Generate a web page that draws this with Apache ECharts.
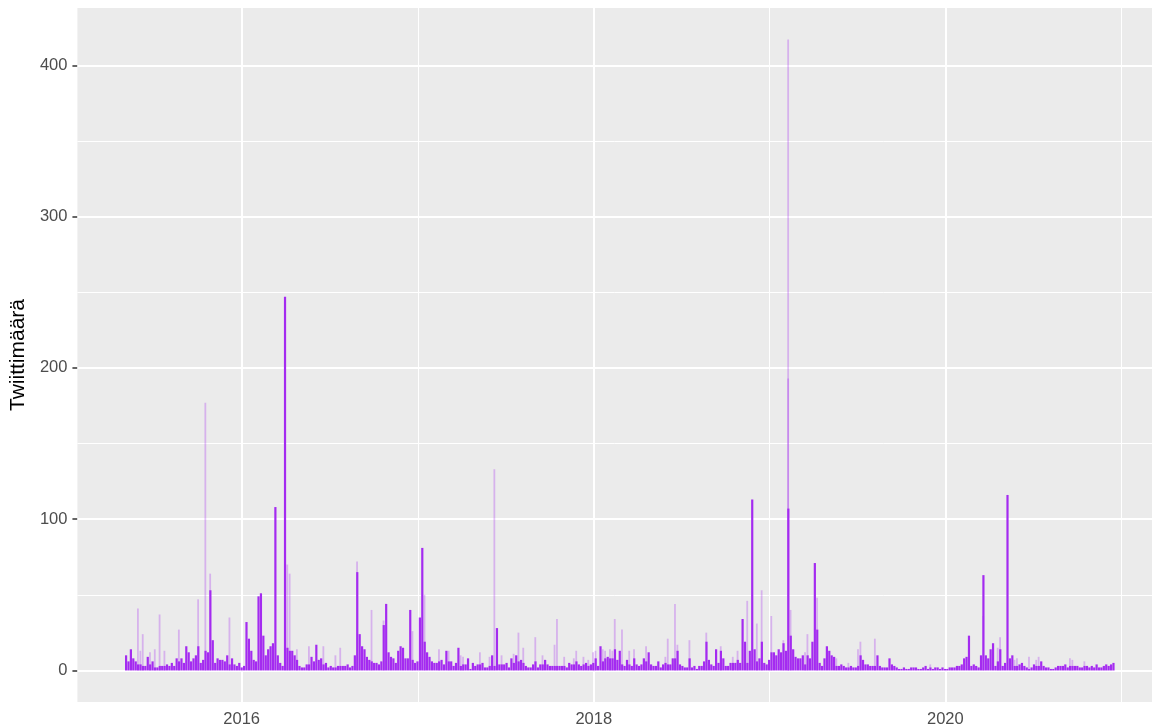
<!DOCTYPE html>
<html>
<head>
<meta charset="utf-8">
<script src="https://cdn.jsdelivr.net/npm/echarts@6/dist/echarts.min.js"></script>
<style>
  html, body { margin: 0; padding: 0; background: #ffffff; }
  #chart { width: 1152px; height: 728px; }
</style>
</head>
<body>
<div id="chart"></div>
<script>
// tweet counts sampled every 5 days, starting 2015-05-06
const startDay = Date.UTC(2015, 4, 6)
const stepDays = 5
const counts = [
  // 2015
  10, 6, 14, 8, 6, 4, 4, 3, 3, 9, 4, 6, 2, 2, 3, 3, 3, 4, 3, 5,
  3, 8, 6, 8, 5, 16, 12, 6, 8, 10, 16, 5, 7, 13, 12, 53, 20, 5, 8, 7,
  7, 6, 10, 4, 8, 4, 3, 5, 2, 3,
  // 2016
  32, 21, 13, 7, 6, 49, 51, 23, 10, 14, 16, 18, 108, 10, 5,
  3, 247, 15, 13, 13, 10, 7, 3, 2, 2, 4, 4, 9, 6, 17, 7, 8, 4, 5, 2,
  3, 2, 2, 3, 3, 3, 3, 4, 2, 3, 10, 65, 24, 16, 14, 9, 7, 6, 5, 5,
  4, 6, 30, 44, 12, 9, 8, 5, 13, 16, 15, 8, 8, 40, 7, 5, 6, 35, 81, 19,
  // 2017
  12, 9, 6, 5, 5, 6, 7, 4, 13, 6, 6, 3, 5, 15, 3,
  4, 4, 8, 1, 5, 3, 4, 4, 5, 2, 2, 3, 10, 3, 28, 4, 4, 4, 5, 2,
  8, 5, 10, 6, 7, 5, 3, 2, 2, 4, 6, 2, 4, 4, 7, 4, 3, 3, 3, 3,
  3, 3, 3, 2, 5, 4, 4, 6, 4, 3, 4, 5, 3, 4, 5, 8, 3, 16, 6, 8,
  // 2018
  9, 8, 8, 14, 7, 13, 4, 3, 7, 4, 3, 8, 4, 3, 4,
  8, 6, 12, 4, 3, 3, 6, 2, 4, 5, 4, 4, 8, 8, 13, 4, 3, 2, 2, 8,
  2, 3, 1, 3, 3, 6, 19, 7, 4, 3, 14, 5, 13, 8, 3, 3, 5, 5, 5, 7,
  5, 34, 19, 5, 13, 113, 14, 6, 8, 19, 5, 4, 7, 12, 12, 10, 14, 12, 18, 13,
  // 2019
  107, 23, 14, 9, 8, 8, 10, 4, 10, 8, 19, 71, 27, 5, 3,
  8, 16, 13, 10, 9, 3, 3, 4, 3, 2, 2, 3, 2, 2, 3, 10, 7, 4, 4, 3,
  3, 3, 10, 3, 2, 2, 2, 8, 4, 3, 2, 1, 1, 2, 1, 1, 2, 2, 2, 1,
  1, 2, 3, 1, 2, 1, 2, 2, 1, 2, 1, 1, 2, 2, 2, 3, 3, 4, 8, 9,
  // 2020
  23, 3, 4, 3, 2, 10, 63, 10, 8, 14, 18, 3, 6, 14,
  3, 5, 116, 8, 10, 3, 3, 4, 5, 3, 2, 1, 2, 4, 3, 3, 6, 3, 2, 2,
  1, 1, 2, 3, 3, 3, 4, 2, 3, 3, 3, 3, 2, 2, 3, 3, 2, 3, 2, 4,
  2, 2, 3, 4, 3, 4, 5
]
// single-day peaks (drawn lighter), index in the 5-day grid above
const peakIdx = [
  5, 6, 7, 10, 12, 14, 16, 22, 30, 33, 35, 43,
  67, 68, 71, 76, 82, 87, 89, 96, 102, 107, 119, 124,
  130, 134, 139, 140, 147, 151, 153, 156, 161, 163, 165, 170, 173, 178, 179, 182,
  186, 187, 190, 192, 194, 195, 198, 199, 201, 202, 203,
  206, 209, 211, 216, 224, 225, 228, 229, 234, 241, 247, 252, 254, 258, 262, 264,
  268, 273, 275, 275, 276,
  282, 283, 287, 295, 300, 304, 305, 311, 334,
  356, 362, 363, 369, 370, 375, 378, 379, 392, 393, 398
]
const peakCounts = [
  41, 13, 24, 12, 14, 37, 13, 27, 47, 177, 64, 35,
  70, 64, 14, 16, 16, 10, 15, 72, 40, 33, 26, 50,
  14, 13, 10, 9, 12, 9, 133, 10, 11, 25, 15, 22, 10, 17, 34, 9,
  8, 13, 9, 7, 12, 13, 14, 13, 14, 13, 34,
  27, 13, 14, 16, 9, 21, 44, 17, 20, 25, 16, 9, 13, 46, 31, 53,
  36, 20, 417, 193, 40,
  12, 24, 48, 8, 5, 14, 19, 21, 4,
  36, 15, 22, 7, 8, 9, 7, 9, 8, 7, 6
]
const yTicks = [0, 100, 200, 300, 400]
const yMinor = [50, 150, 250, 350]
const xTickYears = [2016, 2018, 2020]
const xMinorYears = [2017, 2019, 2021]
const yTitle = 'Twiittimäärä'

const DAY = 86400000
function dateOf(i) {
    return startDay + i * stepDays * DAY
}
const darkData = counts.map((v, i) => [dateOf(i), v])
const lightData = peakIdx.map((idx, k) => [dateOf(idx), peakCounts[k]])
const yearMs = y => Date.UTC(y, 0, 1)

const majorLine = { color: '#ffffff', width: 2, type: 'solid' }
const minorLine = { color: '#ffffff', width: 1, type: 'solid' }
const gridLines = [].concat(
    yMinor.map(v => ({ yAxis: v, lineStyle: minorLine })),
    yTicks.map(v => ({ yAxis: v, lineStyle: majorLine })),
    xMinorYears.map(y => ({ xAxis: yearMs(y), lineStyle: minorLine })),
    xTickYears.map(y => ({ xAxis: yearMs(y), lineStyle: majorLine }))
)

const font = 'Liberation Sans, Arial, Helvetica, sans-serif'
const chart = echarts.init(document.getElementById('chart'), null, { renderer: 'canvas' })
const option = {
    backgroundColor: '#ffffff',
    animation: false,
    grid: {
        left: 77, right: 0, top: 8, bottom: 25,
        show: true, backgroundColor: '#EBEBEB', borderWidth: 0
    },
    xAxis: {
        type: 'value',
        min: Date.UTC(2015, 0, 25),
        max: Date.UTC(2021, 2, 5),
        axisLine: { show: false },
        splitLine: { show: false },
        axisTick: {
            show: true, length: 5,
            customValues: xTickYears.map(yearMs),
            lineStyle: { color: '#333333', width: 1.5 }
        },
        axisLabel: {
            customValues: xTickYears.map(yearMs),
            formatter: v => String(new Date(v).getUTCFullYear()),
            color: '#4D4D4D', fontSize: 16.5, fontFamily: font, margin: 9
        }
    },
    yAxis: {
        type: 'value',
        min: -20.85,
        max: 437.85,
        name: yTitle,
        nameLocation: 'middle',
        nameGap: 44,
        nameRotate: 90,
        nameTextStyle: { color: '#000000', fontSize: 21, fontFamily: font },
        axisLine: { show: false },
        splitLine: { show: false },
        axisTick: {
            show: true, length: 5,
            customValues: yTicks,
            lineStyle: { color: '#333333', width: 1.5 }
        },
        axisLabel: {
            customValues: yTicks,
            color: '#4D4D4D', fontSize: 16.5, fontFamily: font, margin: 10
        }
    },
    series: [
        {
            // panel grid lines
            type: 'line',
            data: [],
            z: 1,
            silent: true,
            markLine: {
                z: 1,
                silent: true,
                symbol: 'none',
                animation: false,
                label: { show: false },
                data: gridLines
            }
        },
        {
            name: 'peaks',
            type: 'bar',
            data: lightData,
            z: 3,
            barWidth: 1.8,
            barGap: '-100%',
            itemStyle: { color: 'rgba(160, 32, 240, 0.28)' },
            silent: true
        },
        {
            name: 'counts',
            type: 'bar',
            data: darkData,
            z: 4,
            barWidth: 2.2,
            barGap: '-100%',
            itemStyle: { color: '#A42BF0' },
            silent: true
        }
    ]
}
chart.setOption(option)
</script>
</body>
</html>
